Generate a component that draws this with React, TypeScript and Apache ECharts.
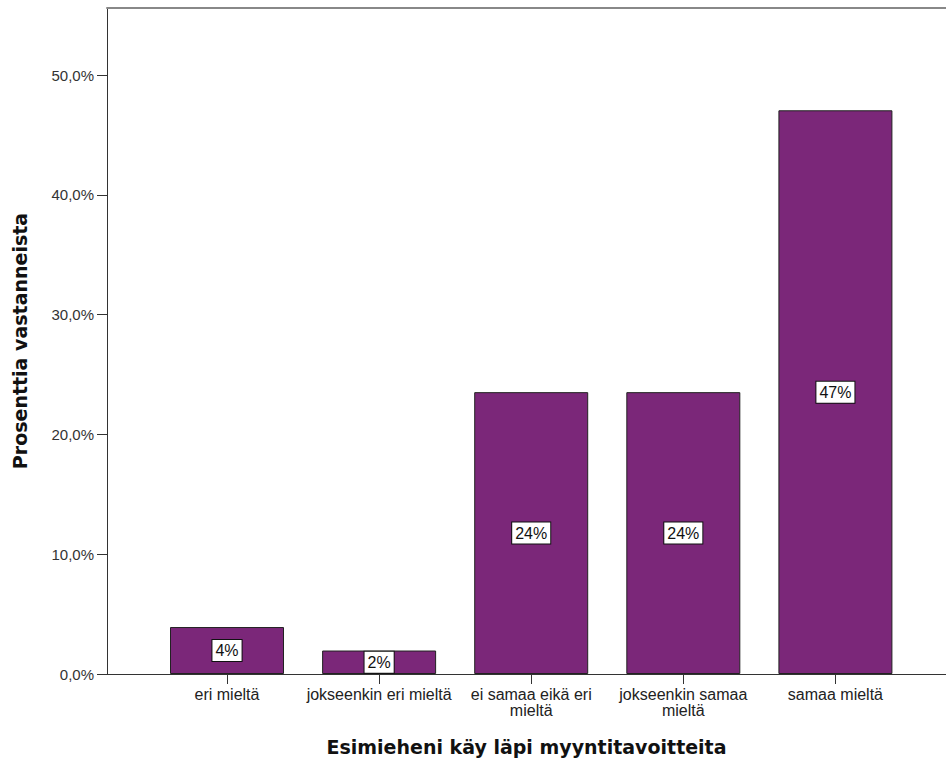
import React, { useEffect, useRef } from "react";
import * as echarts from "echarts";

const categories = [
  "eri mieltä",
  "jokseenkin eri mieltä",
  "ei samaa eikä eri mieltä",
  "jokseenkin samaa mieltä",
  "samaa mieltä",
];
const percentValues = [3.92, 1.96, 23.53, 23.53, 47.06];
const yTicks = [0, 10, 20, 30, 40, 50];
const xTitle = "Esimieheni käy läpi myyntitavoitteita";
const yTitle = "Prosenttia vastanneista";

const FONT = "'Liberation Sans', Arial, sans-serif";
const TITLE_FONT = "'DejaVu Sans', 'Liberation Sans', sans-serif";

function wrapLabel(s: string): string {
  if (s.length <= 21) return s;
  const i = s.lastIndexOf(" ");
  return i > 0 ? s.slice(0, i) + "\n" + s.slice(i + 1) : s;
}

export default function App() {
  const ref = useRef<HTMLDivElement>(null);
  useEffect(() => {
    if (!ref.current) return;
    const chart = echarts.init(ref.current, undefined, { renderer: "svg" });
    const xMin = -0.789;
    const xMax = 4.727;
    chart.setOption({
      animation: false,
      backgroundColor: "#fff",
      textStyle: { fontFamily: FONT },
      grid: { left: 107, right: 0, top: 8, bottom: 88 },
      xAxis: [
        {
          type: "value",
          min: xMin,
          max: xMax,
          position: "bottom",
          splitLine: { show: false },
          axisLine: { show: true, onZero: false, lineStyle: { color: "#333", width: 1 } },
          axisTick: {
            show: true,
            length: 10,
            customValues: categories.map((_, i) => i),
            lineStyle: { color: "#333" },
          },
          axisLabel: {
            customValues: categories.map((_, i) => i),
            formatter: (v: number) => wrapLabel(categories[Math.round(v)] ?? ""),
            color: "#222",
            fontSize: 16,
            fontFamily: FONT,
            margin: 12,
            lineHeight: 16,
            hideOverlap: false,
          },
          name: xTitle,
          nameLocation: "middle",
          nameGap: 63,
          nameTextStyle: { fontSize: 19, fontWeight: "bold", color: "#111", fontFamily: TITLE_FONT },
        },
        {
          type: "value",
          min: xMin,
          max: xMax,
          position: "top",
          splitLine: { show: false },
          axisLine: { show: true, onZero: false, lineStyle: { color: "#888", width: 2 } },
          axisTick: { show: false },
          axisLabel: { show: false },
        },
      ],
      yAxis: {
        type: "value",
        min: 0,
        max: 55.6,
        splitLine: { show: false },
        axisLine: { show: true, onZero: false, lineStyle: { color: "#333", width: 1 } },
        axisTick: {
          show: true,
          length: 10,
          customValues: yTicks,
          lineStyle: { color: "#333" },
        },
        axisLabel: {
          customValues: yTicks,
          formatter: (v: number) => v.toFixed(1).replace(".", ",") + "%",
          color: "#333",
          fontSize: 15,
          fontFamily: FONT,
          margin: 13,
        },
        name: yTitle,
        nameLocation: "middle",
        nameGap: 78,
        nameTextStyle: { fontSize: 19, fontWeight: "bold", color: "#111", fontFamily: TITLE_FONT },
      },
      series: [
        {
          type: "bar",
          xAxisIndex: 0,
          barWidth: 114,
          data: percentValues.map((v, i) => [i, v]),
          itemStyle: { color: "#7B2779", borderColor: "#222", borderWidth: 1 },
          label: {
            show: true,
            position: "inside",
            formatter: (p: any) => Math.round(p.value[1]) + "%",
            color: "#111",
            fontSize: 16,
            fontFamily: FONT,
            backgroundColor: "#fff",
            borderColor: "#111",
            borderWidth: 1,
            padding: [3, 3, 2, 3],
          },
        },
      ],
    });
    return () => chart.dispose();
  }, []);
  return (
    <div
      ref={ref}
      style={{ position: "fixed", left: 0, top: 0, width: 946, height: 762 }}
    />
  );
}
